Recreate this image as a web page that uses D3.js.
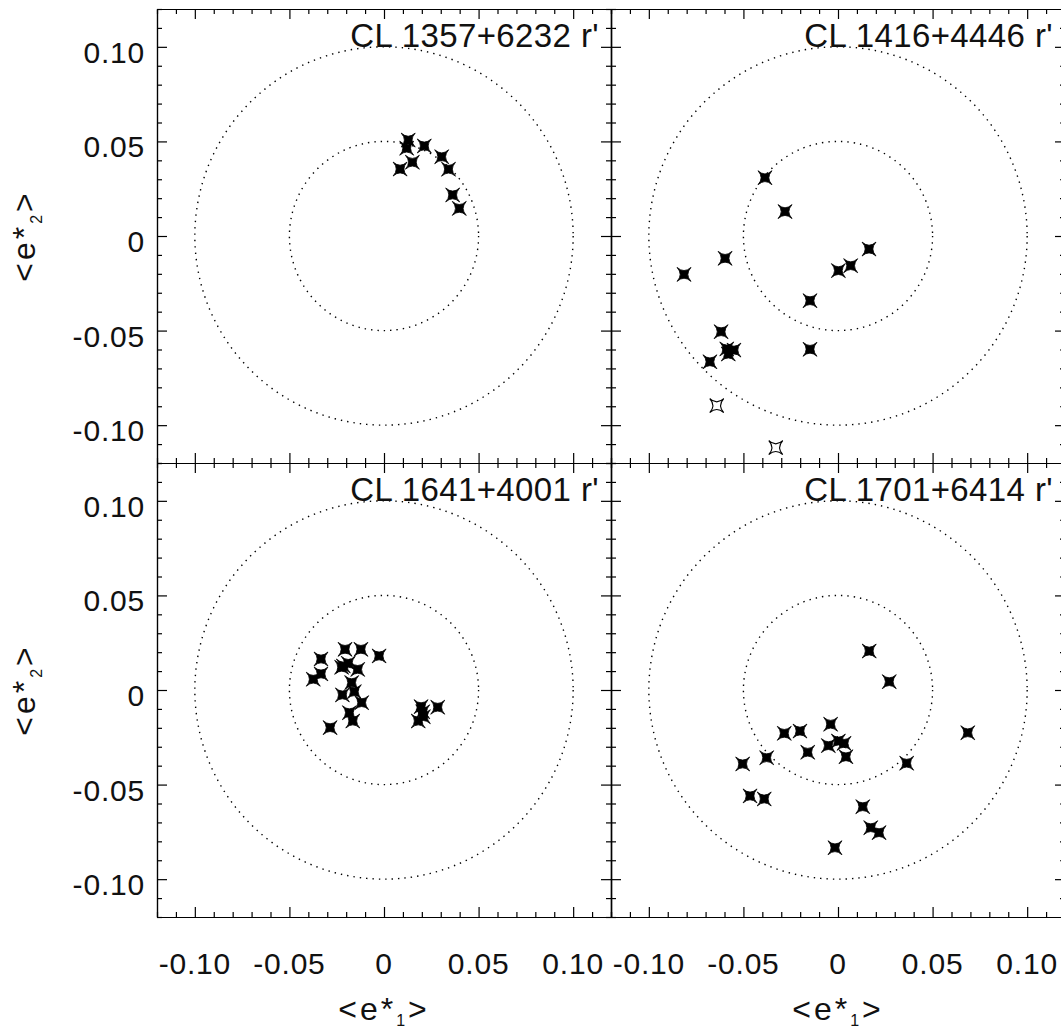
<!DOCTYPE html>
<html>
<head>
<meta charset="utf-8">
<script src="https://cdn.jsdelivr.net/npm/d3@7"></script>
<style>
  body { margin: 0; background: #fff; }
  svg { display: block; }
  text { font-family: "Liberation Sans", Arial, Helvetica, sans-serif; fill: #111; }
</style>
</head>
<body>
<script>
// mean ellipticity of the stars in each field
const titles = ["CL 1357+6232 r'", "CL 1416+4446 r'", "CL 1641+4001 r'", "CL 1701+6414 r'"];

const e1_1357 = [0.0128, 0.0120, 0.0213, 0.0305, 0.0341, 0.0150, 0.0085, 0.0363, 0.0398];
const e2_1357 = [0.0507, 0.0464, 0.0476, 0.0419, 0.0353, 0.0390, 0.0354, 0.0217, 0.0146];

const e1_1416 = [-0.0386, -0.0280, -0.0597, -0.0814, 0.0164, 0.0067, 0.0002, -0.0148, -0.0618, -0.0588, -0.0550, -0.0580, -0.0677, -0.0148];
const e2_1416 = [0.0308, 0.0129, -0.0118, -0.0203, -0.0069, -0.0157, -0.0183, -0.0342, -0.0506, -0.0597, -0.0603, -0.0624, -0.0665, -0.0599];
// rejected stars (open symbols)
const e1_1416_open = [-0.0641, -0.0329];
const e2_1416_open = [-0.0897, -0.1119];

const e1_1641 = [-0.0206, -0.0122, -0.0333, -0.0026, -0.0215, -0.0189, -0.0224, -0.0139, -0.0333, -0.0374, -0.0171, -0.0157, -0.0220, -0.0118, -0.0183, -0.0165, -0.0285, 0.0196, 0.0205, 0.0181, 0.0208, 0.0284];
const e2_1641 = [0.0215, 0.0215, 0.0164, 0.0180, 0.0127, 0.0141, 0.0120, 0.0109, 0.0085, 0.0057, 0.0039, -0.0009, -0.0026, -0.0067, -0.0120, -0.0164, -0.0199, -0.0088, -0.0115, -0.0164, -0.0141, -0.0091];

const e1_1701 = [0.0165, 0.0271, -0.0039, -0.0284, -0.0201, -0.0051, 0.0002, 0.0032, -0.0160, 0.0042, -0.0377, -0.0504, 0.0363, 0.0686, -0.0465, -0.0390, 0.0131, 0.0173, 0.0217, -0.0016];
const e2_1701 = [0.0206, 0.0044, -0.0181, -0.0229, -0.0217, -0.0294, -0.0270, -0.0282, -0.0329, -0.0353, -0.0358, -0.0391, -0.0387, -0.0226, -0.0560, -0.0576, -0.0617, -0.0728, -0.0754, -0.0834];

const majorTicks = [-0.10, -0.05, 0, 0.05, 0.10];
const tickLabels = ["-0.10", "-0.05", "0", "0.05", "0.10"];
const circleRadii = [0.05, 0.10];

const panels = [
  { title: titles[0], col: 0, row: 0, e1: e1_1357, e2: e2_1357, o1: [], o2: [] },
  { title: titles[1], col: 1, row: 0, e1: e1_1416, e2: e2_1416, o1: e1_1416_open, o2: e2_1416_open },
  { title: titles[2], col: 0, row: 1, e1: e1_1641, e2: e2_1641, o1: [], o2: [] },
  { title: titles[3], col: 1, row: 1, e1: e1_1701, e2: e2_1701, o1: [], o2: [] }
];

const W = 1061, H = 1032;
const offsetX = 157, offsetY = 9, size = 454;

const svg = d3.select("body").append("svg")
  .attr("width", W)
  .attr("height", H);

const x = d3.scaleLinear().domain([-0.12, 0.12]).range([0, size]);
const y = d3.scaleLinear().domain([-0.12, 0.12]).range([size, 0]);
const minorTicks = x.ticks(24).filter(t => !majorTicks.some(m => Math.abs(m - t) < 1e-9));

// four-pointed star with concave sides, tips on the diagonals
function star(r) {
  const c = 0.1 * r;
  return `M${-r},${-r}Q0,${-c} ${r},${-r}Q${c},0 ${r},${r}Q0,${c} ${-r},${r}Q${-c},0 ${-r},${-r}Z`;
}

function styleAxis(g) {
  g.selectAll("path, line").attr("stroke", "#000").attr("stroke-width", 1.2);
  g.selectAll("text").remove();
}

panels.forEach(p => {
  const g = svg.append("g")
    .attr("transform", `translate(${offsetX + p.col * size},${offsetY + p.row * size})`);

  // ticks on all four sides, pointing in
  [[d3.axisBottom, `translate(0,${size})`, x],
   [d3.axisTop, "translate(0,0)", x],
   [d3.axisLeft, "translate(0,0)", y],
   [d3.axisRight, `translate(${size},0)`, y]].forEach(([axis, tr, sc]) => {
    g.append("g").attr("transform", tr)
      .call(axis(sc).tickValues(majorTicks).tickSize(-10).tickSizeOuter(0))
      .call(styleAxis);
    g.append("g").attr("transform", tr)
      .call(axis(sc).tickValues(minorTicks).tickSize(-5).tickSizeOuter(0))
      .call(styleAxis);
  });

  g.selectAll("circle.ring")
    .data(circleRadii)
    .enter()
    .append("circle")
    .attr("class", "ring")
    .attr("cx", x(0))
    .attr("cy", y(0))
    .attr("r", d => x(d) - x(0))
    .attr("fill", "none")
    .attr("stroke", "#000")
    .attr("stroke-width", 1.4)
    .attr("stroke-dasharray", "1.4,5");

  g.append("text")
    .attr("x", size - 12)
    .attr("y", 38)
    .attr("text-anchor", "end")
    .style("font-size", "33px")
    .style("letter-spacing", "0.4px")
    .text(p.title);

  g.selectAll("path.open")
    .data(d3.zip(p.o1, p.o2))
    .enter()
    .append("path")
    .attr("class", "open")
    .attr("d", star(7))
    .attr("transform", d => `translate(${x(d[0])},${y(d[1])})`)
    .attr("fill", "#fff")
    .attr("stroke", "#000")
    .attr("stroke-width", 1.1);

  g.selectAll("path.star")
    .data(d3.zip(p.e1, p.e2))
    .enter()
    .append("path")
    .attr("class", "star")
    .attr("d", star(7))
    .attr("transform", d => `translate(${x(d[0])},${y(d[1])})`)
    .attr("fill", "#000")
    .attr("stroke", "#000")
    .attr("stroke-width", 0.8);

  if (p.col === 0) {
    g.selectAll("text.ylab")
      .data(majorTicks)
      .enter()
      .append("text")
      .attr("class", "ylab")
      .attr("x", -12)
      .attr("y", d => y(d) + 16)
      .attr("text-anchor", "end")
      .style("font-size", "30px")
      .style("letter-spacing", "0.8px")
      .text((d, i) => tickLabels[i]);

    const yt = g.append("text")
      .attr("transform", `translate(-122,${y(0)}) rotate(-90)`)
      .attr("text-anchor", "middle")
      .style("font-size", "32px")
      .style("letter-spacing", "3px");
    yt.append("tspan").text("<e*");
    yt.append("tspan").attr("dy", 7).style("font-size", "16px").text("2");
    yt.append("tspan").attr("dy", -7).text(">");
  }

  if (p.row === 1) {
    g.selectAll("text.xlab")
      .data(majorTicks)
      .enter()
      .append("text")
      .attr("class", "xlab")
      .attr("x", d => x(d))
      .attr("y", size + 57)
      .attr("text-anchor", "middle")
      .style("font-size", "30px")
      .style("letter-spacing", "0.8px")
      .text((d, i) => tickLabels[i]);

    const xt = g.append("text")
      .attr("x", x(0))
      .attr("y", size + 103)
      .attr("text-anchor", "middle")
      .style("font-size", "32px")
      .style("letter-spacing", "3px");
    xt.append("tspan").text("<e*");
    xt.append("tspan").attr("dy", 6).style("font-size", "16px").text("1");
    xt.append("tspan").attr("dy", -6).text(">");
  }
});
</script>
</body>
</html>
